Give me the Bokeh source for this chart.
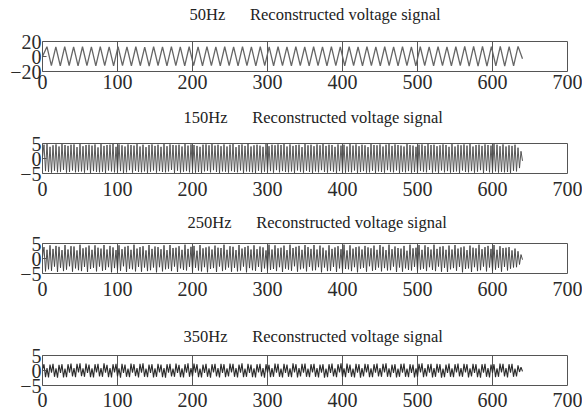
import numpy as np
from bokeh.plotting import figure
from bokeh.layouts import column
from bokeh.models import Range1d, FixedTicker, Title
from bokeh.embed import file_html
from bokeh.resources import INLINE

# ---------------- data ----------------
freq_labels = ["50Hz", "150Hz", "250Hz", "350Hz"]
title_text = "Reconstructed voltage signal"
x_ticks = [0, 100, 200, 300, 400, 500, 600, 700]
x_limits = [0, 700]
signal_end = 640
y_limits = [20, 5, 5, 5]
y_ticks = [[-20, 0, 20], [-5, 0, 5], [-5, 0, 5], [-5, 0, 5]]

v50 = [0.0,
       13.1, -12.2, 12.8, -12.6, 13.3, -12.0, 12.9, -12.4, 13.0, -12.3,
       12.7, -12.5, 13.2, -12.1, 12.9, -12.6, 13.1, -12.2, 12.8, -12.4,
       13.0, -12.3, 12.6, -12.7, 13.2, -12.0, 12.9, -12.5, 13.1, -12.2,
       12.8, -12.6, 13.0, -12.3, 12.7, -12.4, 13.3, -12.1, 12.9, -12.5,
       13.0, -12.2, 12.8, -12.6, 13.1, -12.3, 12.7, -12.4, 13.2, -12.1,
       12.9, -12.5, 13.0, -12.3, 12.8, -12.6, 13.1, -12.2, 12.7, -12.4,
       13.0, -12.3, 12.9, -12.5, 13.2, -12.1, 12.8, -12.6, 13.0, -12.2,
       12.7, -12.4, 13.1, -12.3, 12.9, -12.5, 13.0, -12.2, 12.8, -12.6,
       13.2, -12.1, 12.9, -12.4, 13.0, -12.3, 12.7, -12.5, 13.1, -12.2,
       12.8, -12.6, 13.0, -12.3, 13.4, -12.8, 13.6, -12.9, 13.5, -12.7,
       13.3, -12.5, 13.4, -12.8, 13.2, -12.4, 13.5, -3.0]

v150 = [0.4, 4.6, -4.2, 4.8, -4.5, 3.9, -4.7, 4.4, -4.1, 4.7, -4.6, 4.0, -4.4, 4.8, -3.8, 4.5, -4.7, 4.2, -4.5, 4.6,
        -4.0, 4.7, -4.6, 3.8, -4.4, 4.8, -4.3, 4.1, -4.7, 4.5, -3.9, 4.6, -4.8, 4.3, -4.2, 4.7, -4.5, 3.7, -4.6, 4.8,
        -4.4, 4.2, -4.8, 4.5, -4.0, 4.6, -4.3, 4.9, -4.6, 3.9, -4.5, 4.7, -4.2, 4.4, -4.8, 4.0, -4.6, 4.7, -3.9, 4.5,
        -4.7, 4.3, -4.1, 4.8, -4.5, 4.0, -4.6, 4.6, -4.3, 3.8, -4.8, 4.5, -4.4, 4.7, -4.0, 4.2, -4.7, 4.6, -4.2, 3.9,
        -4.5, 4.8, -4.6, 4.1, -4.3, 4.7, -3.8, 4.5, -4.8, 4.4, -4.1, 4.6, -4.7, 4.0, -4.4, 4.8, -4.2, 4.3, -4.6, 4.7,
        -4.0, 4.5, -4.7, 4.2, -4.5, 3.9, -4.8, 4.6, -4.3, 4.7, -4.1, 4.4, -4.6, 4.8, -3.9, 4.3, -4.5, 4.6, -4.8, 4.1,
        -4.3, 4.7, -4.4, 4.0, -4.7, 4.6, -4.2, 4.8, -4.5, 3.8, -4.6, 4.5, -4.0, 4.7, -4.8, 4.2, -4.3, 4.9, -4.4, 4.0,
        -4.6, 4.4, -4.8, 4.6, -4.1, 4.3, -4.7, 3.9, -4.4, 4.8, -4.5, 4.1, -4.2, 4.6, -4.7, 4.4, -3.9, 4.7, -4.6, 4.5,
        -4.2, 4.8, -4.5, 4.0, -4.6, 4.7, -4.3, 4.2, -4.8, 4.5, -4.0, 4.6, -4.4, 3.8, -4.7, 4.8, -4.1, 4.4, -4.5, 4.6,
        -4.8, 4.1, -4.3, 4.7, -4.6, 4.4, -3.9, 4.8, -4.5, 4.2, -4.7, 4.6, -4.1, 4.5, -4.4, 3.9, -4.8, 4.7, -4.2, 4.3,
        -4.5, 4.6, -4.7, 4.0, -4.4, 4.8, -4.6, 4.3, -4.0, 4.7, -4.8, 4.1, -4.5, 4.6, -4.2, 4.4, -4.7, 3.8, -4.6, 4.8,
        -4.1, 4.5, -4.8, 4.4, -4.3, 4.7, -4.5, 4.0, -4.7, 4.6, -3.9, 4.8, -4.4, 4.2, -4.6, 4.7, -4.0, 4.5, -4.8, 4.3,
        -4.4, 4.0, -4.6, 4.8, -4.2, 4.5, -4.7, 4.3, -4.5, 3.9, -4.8, 4.6, -4.1, 4.7, -4.4, 4.2, -4.6, 4.8, -3.8, 4.5,
        -4.7, 4.6, -4.3, 4.1, -4.8, 4.4, -4.0, 4.7, -4.6, 4.5, -4.2, 3.9, -4.7, 4.8, -4.5, 4.0, -4.3, 4.6, -4.8, 4.4,
        -4.0, 4.7, -4.5, 4.3, -4.6, 4.8, -4.2, 4.0, -4.7, 4.5, -4.4, 4.6, -3.9, 4.2, -4.8, 4.7, -4.1, 4.5, -4.6, 4.3,
        -4.5, 4.8, -4.3, 4.6, -4.7, 4.1, -4.4, 4.7, -4.6, 4.0, -4.5, 4.4, -4.8, 4.2, -4.1, 4.6, -4.3, 3.6, -3.2, 2.4,
        -0.8]

v250 = [0.5, 3.8, -4.3, 2.9, -3.6, 4.4, -4.1, 3.2, -2.7, 4.2, -4.5, 3.9, -3.1, 2.8, -4.2, 4.5, -3.7, 3.0, -2.6, 4.1,
        -4.4, 4.0, -3.3, 2.7, -3.9, 4.6, -4.2, 3.4, -2.8, 3.7, -4.5, 4.3, -3.5, 2.9, -3.1, 4.4, -4.3, 3.6, -2.7, 3.3,
        -4.1, 4.5, -3.8, 3.0, -2.9, 4.2, -4.6, 3.7, -3.2, 2.8, -4.0, 4.4, -4.1, 3.1, -2.6, 3.9, -4.5, 4.2, -3.4, 2.9,
        -3.6, 4.6, -4.3, 3.3, -2.8, 3.8, -4.4, 4.1, -3.0, 2.7, -4.2, 4.5, -3.9, 3.2, -3.0, 4.0, -4.6, 3.8, -2.9, 3.1,
        -4.3, 4.4, -3.6, 2.8, -3.4, 4.5, -4.2, 3.5, -2.7, 3.6, -4.5, 4.1, -3.3, 2.9, -3.8, 4.6, -4.0, 3.2, -2.8, 3.9,
        -4.4, 4.2, -3.1, 2.6, -4.0, 4.5, -4.3, 3.4, -2.9, 3.7, -4.6, 4.0, -3.5, 3.0, -3.2, 4.3, -4.5, 3.6, -2.7, 3.5,
        -4.2, 4.6, -3.7, 2.9, -3.0, 4.1, -4.4, 3.9, -3.1, 2.8, -4.3, 4.5, -4.0, 3.3, -2.7, 3.8, -4.6, 4.2, -3.2, 3.0,
        -3.9, 4.4, -4.1, 3.1, -2.8, 4.0, -4.5, 3.7, -3.3, 2.7, -4.1, 4.6, -3.8, 3.0, -3.5, 4.4, -4.2, 3.4, -2.9, 3.6,
        -4.5, 4.3, -3.4, 2.8, -3.7, 4.6, -4.1, 3.5, -2.6, 3.9, -4.4, 4.2, -3.6, 2.9, -3.3, 4.5, -4.3, 3.8, -2.8, 3.2,
        -4.0, 4.5, -3.9, 3.0, -2.9, 4.3, -4.6, 3.6, -3.0, 2.7, -4.2, 4.4, -4.1, 3.2, -2.8, 3.7, -4.5, 4.1, -3.3, 3.1,
        -4.3, 4.6, -3.5, 2.7, -3.6, 4.4, -4.2, 3.3, -2.9, 3.8, -4.6, 4.0, -3.4, 3.0, -3.1, 4.2, -4.4, 3.7, -2.6, 3.4,
        -4.1, 4.3, -3.8, 2.9, -3.0, 4.5, -4.3, 3.9, -3.2, 2.8, -4.0, 4.6, -3.9, 3.1, -2.7, 4.0, -4.5, 3.5, -3.0, 3.3,
        -4.4, 4.2, -3.3, 2.6, -3.8, 4.6, -4.0, 3.4, -2.8, 3.6, -4.3, 4.5, -3.7, 2.9, -3.4, 4.4, -4.2, 3.8, -2.9, 3.0,
        -3.8, 4.6, -4.2, 3.2, -2.7, 3.9, -4.4, 4.1, -3.1, 2.9, -4.5, 4.3, -3.6, 3.0, -3.2, 4.5, -4.1, 3.3, -2.8, 3.7,
        -4.6, 4.0, -3.5, 2.8, -3.3, 4.3, -4.5, 3.6, -2.9, 3.4, -4.2, 4.6, -3.9, 3.1, -2.7, 3.8, -4.3, 4.2, -3.0, 3.2,
        -4.2, 4.5, -3.7, 2.9, -3.1, 4.1, -4.4, 3.5, -2.8, 3.6, -4.0, 3.8, -3.4, 2.7, -3.0, 3.3, -2.9, 2.4, -2.0, 1.3,
        -0.4]

v350 = [0.3, 2.1, -2.2, 0.8, -2.3, 2.0, -0.7, 2.2, -2.1, 0.7, -2.4, 1.9, -0.8, 2.1, -2.3, 0.6, -2.2, 2.1, -0.7, 2.3,
        -2.0, 0.8, -2.2, 2.2, -0.6, 2.4, -1.9, 0.7, -2.1, 2.3, -0.8, 2.0, -2.2, 0.7, -2.3, 2.1, -0.6, 2.2, -2.0, 0.8,
        -2.1, 2.4, -0.7, 1.9, -2.2, 0.8, -2.3, 2.1, -0.6, 2.2, -2.0, 0.7, -2.4, 2.2, -0.8, 2.0, -2.1, 0.6, -2.2, 2.3,
        -0.7, 2.1, -1.9, 0.8, -2.3, 2.2, -0.7, 2.4, -2.1, 0.6, -2.2, 2.0, -0.8, 2.1, -2.3, 0.7, -2.1, 2.2, -0.6, 2.0,
        -2.2, 0.8, -2.4, 2.1, -0.7, 2.2, -2.0, 0.6, -2.1, 2.3, -0.8, 1.9, -2.2, 0.7, -2.3, 2.1, -0.7, 2.4, -2.1, 0.8,
        -2.0, 2.3, -0.7, 2.1, -2.2, 0.6, -2.3, 2.0, -0.8, 2.2, -2.1, 0.7, -2.4, 2.1, -0.6, 2.2, -2.0, 0.8, -2.3, 2.2,
        -0.8, 2.1, -2.2, 0.7, -2.0, 2.3, -0.6, 2.2, -2.1, 0.8, -2.3, 2.0, -0.7, 2.4, -2.2, 0.6, -2.1, 2.2, -0.8, 2.0,
        -2.2, 0.7, -2.3, 2.1, -0.6, 2.2, -2.0, 0.8, -2.4, 2.1, -0.7, 1.9, -2.2, 0.8, -2.1, 2.3, -0.7, 2.2, -2.1, 0.6,
        -2.3, 2.2, -0.8, 2.0, -2.1, 0.7, -2.2, 2.4, -0.6, 2.1, -2.3, 0.8, -2.0, 2.2, -0.7, 2.3, -2.1, 0.6, -2.2, 2.1,
        -0.6, 2.2, -2.1, 0.8, -2.3, 2.0, -0.7, 2.1, -2.4, 0.6, -2.2, 2.1, -0.8, 2.3, -2.0, 0.7, -2.2, 2.1, -0.6, 2.4,
        -2.1, 0.7, -2.2, 2.3, -0.8, 2.0, -2.1, 0.6, -2.3, 2.2, -0.7, 2.1, -2.4, 0.8, -2.0, 2.2, -0.6, 2.1, -2.2, 0.7,
        -2.2, 2.1, -0.7, 2.3, -2.0, 0.8, -2.1, 2.2, -0.6, 2.4, -2.1, 0.7, -2.2, 2.0, -0.8, 2.1, -2.3, 0.6, -2.1, 2.2,
        -0.7, 2.3, -2.1, 0.6, -2.2, 2.1, -0.8, 2.0, -2.3, 0.7, -2.1, 2.2, -0.6, 2.4, -2.2, 0.8, -2.0, 2.1, -0.7, 2.2,
        -2.3, 0.8, -2.1, 2.2, -0.7, 2.1, -2.4, 0.6, -2.2, 2.0, -0.8, 2.3, -2.1, 0.7, -2.2, 2.1, -0.6, 2.3, -2.0, 0.8,
        -2.1, 2.2, -0.6, 2.1, -2.3, 0.7, -2.0, 2.2, -0.8, 2.1, -2.2, 0.6, -2.4, 2.1, -0.7, 2.2, -2.1, 0.8, -2.3, 2.0,
        -0.8, 2.1, -2.2, 0.7, -2.1, 2.3, -0.6, 2.2, -2.0, 0.8, -2.3, 2.1, -0.7, 2.2, -2.1, 0.6, -2.0, 1.7, -0.5, 1.1,
        -0.3]

signals = [v50, v150, v250, v350]

# ---------------- layout / style ----------------
SERIF = "Liberation Serif"
FIG_W = 582
heights = [101, 104, 116, 94]
border_top = [41, 42, 38, 34]
border_bottom = [30, 32, 48, 30]
title_line_height = [0.86, 0.81, 0.54, 0.43]   # the empty 2nd line lifts the title
title_offset = [147, 141, 145, 141]
xlabel_standoff = [3, 8, 8, 7]
line_colors = ["#666666", "#454545", "#3a3a3a", "#2a2a2a"]
line_widths = [1.3, 0.9, 0.9, 1.1]
FRAME = "#555555"
GAP = "\u00a0" * 6


def minus_label(t):
    return ("\u2212" + str(abs(t))) if t < 0 else str(t)


panels = []
for i in range(4):
    lim = y_limits[i]
    ttl = Title(text=freq_labels[i] + GAP + title_text + "\n", align="left",
                vertical_align="top", offset=title_offset[i], standoff=0,
                text_line_height=title_line_height[i],
                text_font=SERIF, text_font_size="16.5px", text_font_style="normal",
                text_color="#222222")
    p = figure(width=FIG_W, height=heights[i], output_backend="svg", toolbar_location=None,
               title=ttl, x_range=Range1d(*x_limits), y_range=Range1d(-lim, lim),
               min_border_left=42, min_border_right=15,
               min_border_top=border_top[i], min_border_bottom=border_bottom[i])
    p.background_fill_color = "white"
    p.border_fill_color = "white"
    p.outline_line_color = FRAME
    p.outline_line_width = 1
    p.outline_line_alpha = 1

    xs = np.linspace(0, signal_end, len(signals[i]))
    p.line(xs, signals[i], line_color=line_colors[i], line_width=line_widths[i])

    xa = p.below[0]
    xa.ticker = FixedTicker(ticks=x_ticks)
    xa.axis_line_color = None
    xa.major_tick_in = 0
    xa.major_tick_out = 0
    xa.minor_tick_line_color = None
    xa.major_label_standoff = xlabel_standoff[i]
    xa.major_label_text_font = SERIF
    xa.major_label_text_font_size = "20px"
    xa.major_label_text_color = "#2a2a2a"

    ya = p.left[0]
    ya.ticker = FixedTicker(ticks=y_ticks[i])
    ya.major_label_overrides = {t_: minus_label(t_) for t_ in y_ticks[i]}
    ya.axis_line_color = None
    ya.major_tick_in = 4
    ya.major_tick_out = 0
    ya.major_tick_line_color = FRAME
    ya.minor_tick_line_color = None
    ya.major_label_standoff = 1
    ya.major_label_text_font = SERIF
    ya.major_label_text_font_size = "20px"
    ya.major_label_text_color = "#2a2a2a"

    p.xgrid.ticker = FixedTicker(ticks=x_ticks)
    p.xgrid.grid_line_color = FRAME
    p.xgrid.grid_line_width = 1
    p.ygrid.grid_line_color = None
    panels.append(p)

layout = column(*panels, spacing=0)
open("out.html", "w").write(file_html(layout, INLINE))
